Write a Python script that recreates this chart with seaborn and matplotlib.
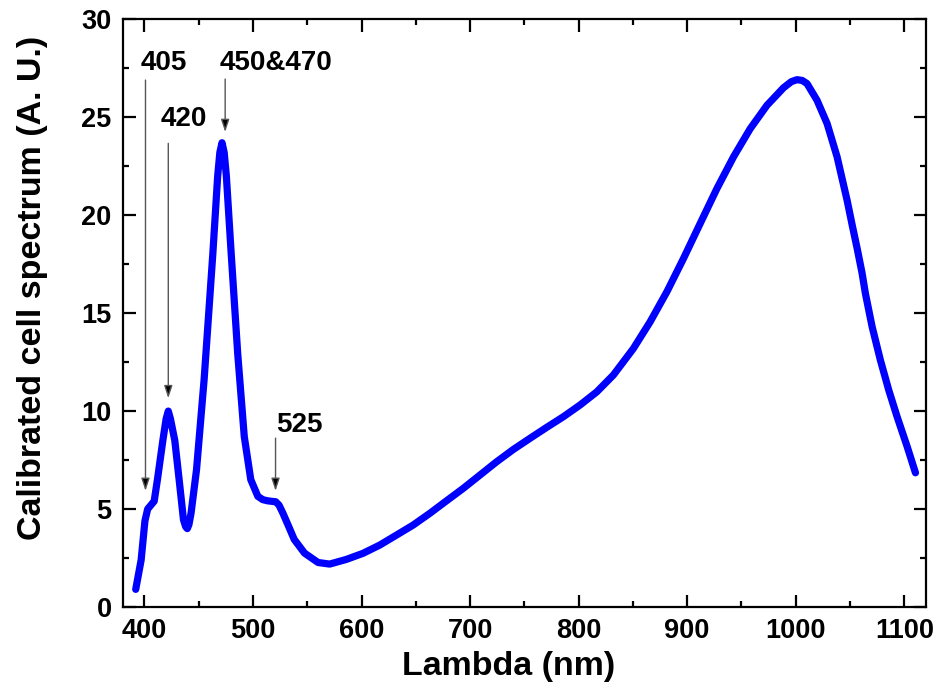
import matplotlib
matplotlib.use("Agg")
import matplotlib.pyplot as plt
import seaborn as sns
import pandas as pd
from matplotlib.ticker import MultipleLocator

# Data
wavelength = [392, 397, 400.5, 403, 406, 409, 412, 417, 420, 422, 424, 428, 432, 436, 438, 439.5,
              441, 443, 448, 455, 463, 467.5, 469.5, 471.5, 473.5, 475.5, 480, 486, 492, 498,
              504.5, 509, 513.5, 521, 524, 527.5, 533, 538, 547.5, 560, 570.7, 586.1, 601.4,
              616.8, 632.2, 647.5, 662.9, 678.3, 693.6, 709, 724.4, 739.8, 755.2, 770.6,
              785.9, 801.3, 816.7, 832, 841, 850.5, 865.9, 881.3, 896.6, 912, 927.4, 942.7,
              958.1, 973.5, 988.8, 996, 1001.2, 1006, 1010.4, 1019.6, 1028.9, 1038.1,
              1047.3, 1052, 1056.6, 1061.1, 1064.2, 1070.4, 1078, 1085.7, 1093.4, 1102.7, 1110.3]
spectrum = [0.9, 2.4, 4.4, 5.0, 5.2, 5.4, 6.5, 8.5, 9.6, 10.0, 9.6, 8.5, 6.5, 4.45, 4.1, 4.0,
            4.2, 4.8, 7.0, 11.6, 18.0, 22.0, 23.2, 23.7, 23.2, 22.0, 18.0, 12.9, 8.7, 6.5,
            5.65, 5.48, 5.42, 5.37, 5.2, 4.8, 4.1, 3.45, 2.75, 2.27, 2.19, 2.43, 2.74,
            3.16, 3.67, 4.18, 4.78, 5.42, 6.05, 6.73, 7.41, 8.04, 8.61, 9.17,
            9.71, 10.31, 10.98, 11.84, 12.5, 13.2, 14.56, 16.09, 17.79, 19.58, 21.36, 22.98,
            24.42, 25.61, 26.51, 26.82, 26.92, 26.88, 26.72, 25.87, 24.68, 22.98,
            20.77, 19.5, 18.3, 17.05, 16.0, 14.3, 12.6, 11.07, 9.71, 8.18, 6.85]

peak_labels = ["405", "420", "450&470", "525"]
arrow_x = [401, 422, 474.4, 520.8]
arrow_tip_y = [5.93, 10.66, 24.25, 5.93]
arrow_top_y = [26.9, 23.67, 26.95, 8.62]
label_x = [396.3, 414.8, 469.2, 521.8]
label_y = [27.4, 24.54, 27.4, 8.93]

sns.set_style("ticks")
plt.rcParams['font.family'] = ['Liberation Sans', 'DejaVu Sans']
plt.rcParams['font.weight'] = 'bold'
for key in ["text.color", "axes.labelcolor", "xtick.color", "ytick.color", "axes.edgecolor"]:
    plt.rcParams[key] = "black"

fig = plt.figure(figsize=(9.38, 6.98), dpi=100)
ax = fig.add_axes([0.1308, 0.1304, 0.9872 - 0.1308, 0.9723 - 0.1304])

df = pd.DataFrame({"Lambda": wavelength, "Spectrum": spectrum})
sns.lineplot(data=df, x="Lambda", y="Spectrum", ax=ax, color="#0000ff",
             linewidth=5.2, sort=False, solid_capstyle="round", solid_joinstyle="round")

for lab, ax_x, tip, top, lx, ly in zip(peak_labels, arrow_x, arrow_tip_y, arrow_top_y, label_x, label_y):
    ax.annotate("", xy=(ax_x, tip), xytext=(ax_x, top),
                arrowprops=dict(arrowstyle="-|>,head_length=0.75,head_width=0.25",
                                facecolor="black", edgecolor="#555555", lw=1.0,
                                shrinkA=0, shrinkB=0))
    ax.text(lx, ly, lab, fontsize=20, fontweight="bold", ha="left", va="baseline", color="black")

ax.set_xlim(380, 1120)
ax.set_ylim(0, 30)
ax.xaxis.set_major_locator(MultipleLocator(100))
ax.xaxis.set_minor_locator(MultipleLocator(50))
ax.yaxis.set_major_locator(MultipleLocator(5))
ax.yaxis.set_minor_locator(MultipleLocator(2.5))

ax.tick_params(which="both", direction="in", top=True, right=True, width=1.6, color="black")
ax.tick_params(which="major", length=9, labelsize=19.5, pad=8, labelcolor="black")
ax.tick_params(which="minor", length=4.5)
for lbl in ax.get_xticklabels() + ax.get_yticklabels():
    lbl.set_fontweight("bold")
for s in ax.spines.values():
    s.set_visible(True)
    s.set_linewidth(1.6)
    s.set_color("black")

ax.set_xlabel("Lambda (nm)", fontsize=24.5, fontweight="bold", labelpad=14, color="black")
ax.set_ylabel("Calibrated cell spectrum (A. U.)", fontsize=24.5, fontweight="bold",
              labelpad=24, color="black")
ax.xaxis.set_label_coords(0.480, -0.075)
ax.xaxis.label.set_va("top")
ax.yaxis.set_label_coords(-0.112, 0.5425)
ax.yaxis.label.set_va("center")

fig.savefig("out.png", dpi=100)
